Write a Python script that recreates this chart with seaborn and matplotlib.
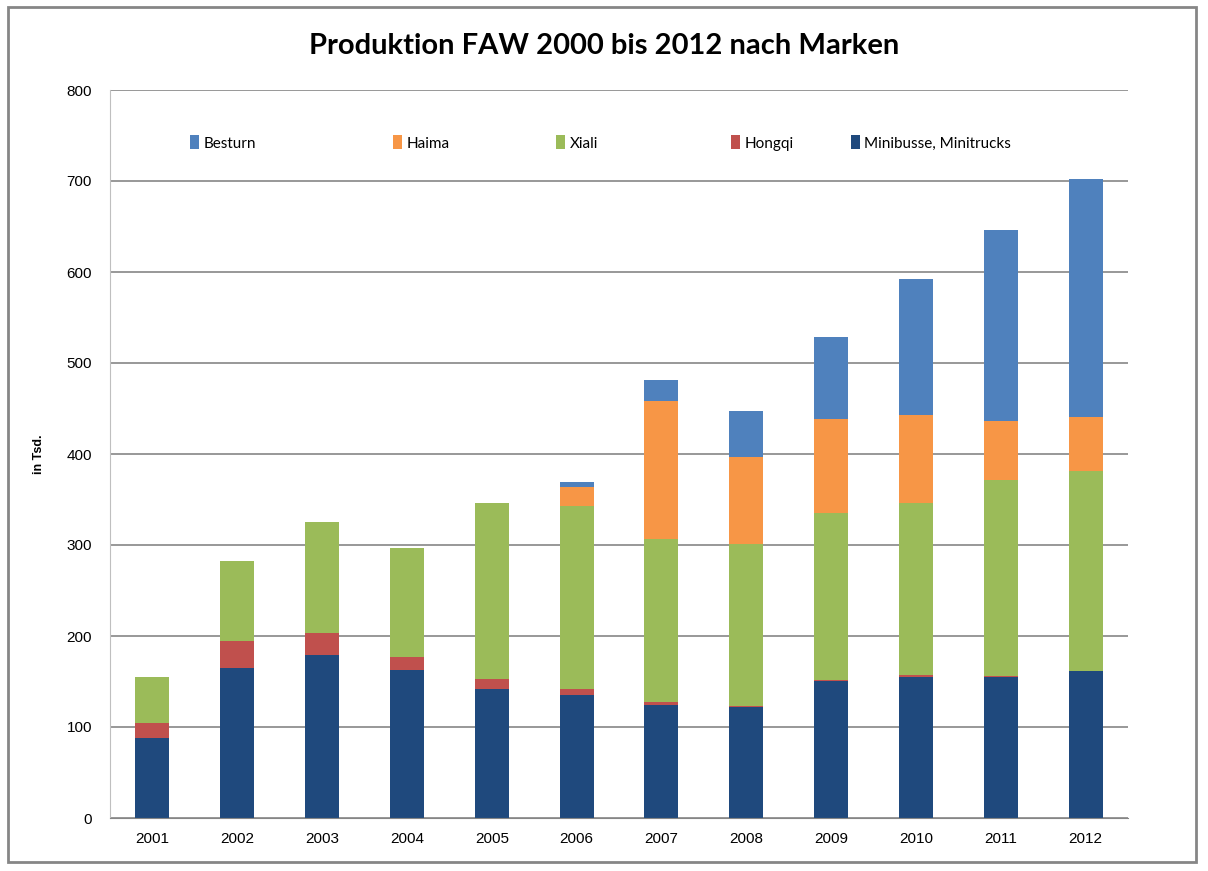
import numpy as np
import pandas as pd
import matplotlib.pyplot as plt
import seaborn as sns
from matplotlib.patches import Rectangle, Patch

years = ['2001', '2002', '2003', '2004', '2005', '2006',
         '2007', '2008', '2009', '2010', '2011', '2012']
minibusse = [88, 165, 179, 163, 142, 135, 124, 122, 150.5, 155, 155, 161]
hongqi = [16, 29, 24, 14, 11, 7, 4, 1.5, 1.5, 2.5, 1.5, 0]
xiali = [51, 88, 122, 120, 193, 201, 179, 178, 183, 189, 215, 220]
haima = [0, 0, 0, 0, 0, 21, 151, 95, 104, 96, 64.5, 60]
besturn = [0, 0, 0, 0, 0, 5, 23, 51, 90, 150, 210, 261]

series = ['Besturn', 'Haima', 'Xiali', 'Hongqi', 'Minibusse, Minitrucks']
colors = ['#4F81BD', '#F79646', '#9BBB59', '#C0504D', '#1F497D']

df = pd.DataFrame({'Jahr': years,
                   'Minibusse, Minitrucks': minibusse,
                   'Hongqi': hongqi,
                   'Xiali': xiali,
                   'Haima': haima,
                   'Besturn': besturn})

sns.set_style('white')
plt.rcParams['font.family'] = ['Liberation Sans', 'DejaVu Sans']
plt.rcParams['text.color'] = 'black'
plt.rcParams['axes.labelcolor'] = 'black'
plt.rcParams['xtick.labelcolor'] = 'black'
plt.rcParams['ytick.labelcolor'] = 'black'

fig = plt.figure(figsize=(12.08, 8.71), dpi=100)
ax = fig.add_axes([110 / 1208, 1 - 818 / 871, 1018 / 1208, 728 / 871])

# stacked bars: draw cumulative totals from the top series down
stack_order = ['Minibusse, Minitrucks', 'Hongqi', 'Xiali', 'Haima', 'Besturn']
cum = df[stack_order].cumsum(axis=1)
for name in reversed(stack_order):
    sns.barplot(x=df['Jahr'], y=cum[name], color=colors[series.index(name)],
                width=0.4, saturation=1, linewidth=0, edgecolor='none',
                ax=ax, zorder=3)

ax.set_ylim(0, 800)
ax.set_xlim(-0.5, 11.5)
ax.set_yticks(np.arange(0, 801, 100))
ax.yaxis.grid(True, color='#868686', lw=1.2)
ax.set_axisbelow(True)
for s in ['top', 'right']:
    ax.spines[s].set_visible(False)
ax.spines['left'].set_color('#BFBFBF')
ax.spines['bottom'].set_color('#868686')
ax.spines['bottom'].set_zorder(4)
ax.tick_params(axis='y', length=5, color='#868686', labelsize=11, pad=8)
ax.tick_params(axis='x', which='major', length=0, labelsize=11, pad=10)
ax.set_xticks(np.arange(-0.5, 12, 1), minor=True)
ax.tick_params(axis='x', which='minor', length=5, color='#A6A6A6')
ax.set_xlabel('')
ax.set_ylabel('in Tsd.', fontsize=9, fontweight='bold')
ax.yaxis.set_label_coords(-0.064, 0.5)

fig.suptitle('Produktion FAW 2000 bis 2012 nach Marken', y=0.962, color='black',
             fontsize=21, fontweight='bold', family=['Lato', 'DejaVu Sans'])

# legend entries placed like the original
leg_x = [182, 385, 548, 723, 843]
for name, px in zip(series, leg_x):
    h = Patch(facecolor=colors[series.index(name)], edgecolor='none')
    fig.legend([h], [name], loc='center left', frameon=False,
               bbox_to_anchor=(px / 1208, 1 - 143 / 871),
               handlelength=0.6, handleheight=1.0, handletextpad=0.3,
               borderpad=0, prop={'family': ['Lato', 'DejaVu Sans'], 'size': 11})

fig.patches.append(Rectangle((8 / 1208, 1 - 862 / 871), 1188 / 1208, 855 / 871,
                             transform=fig.transFigure, fill=False,
                             edgecolor='#868686', lw=2))

fig.savefig('out.png', dpi=100)
